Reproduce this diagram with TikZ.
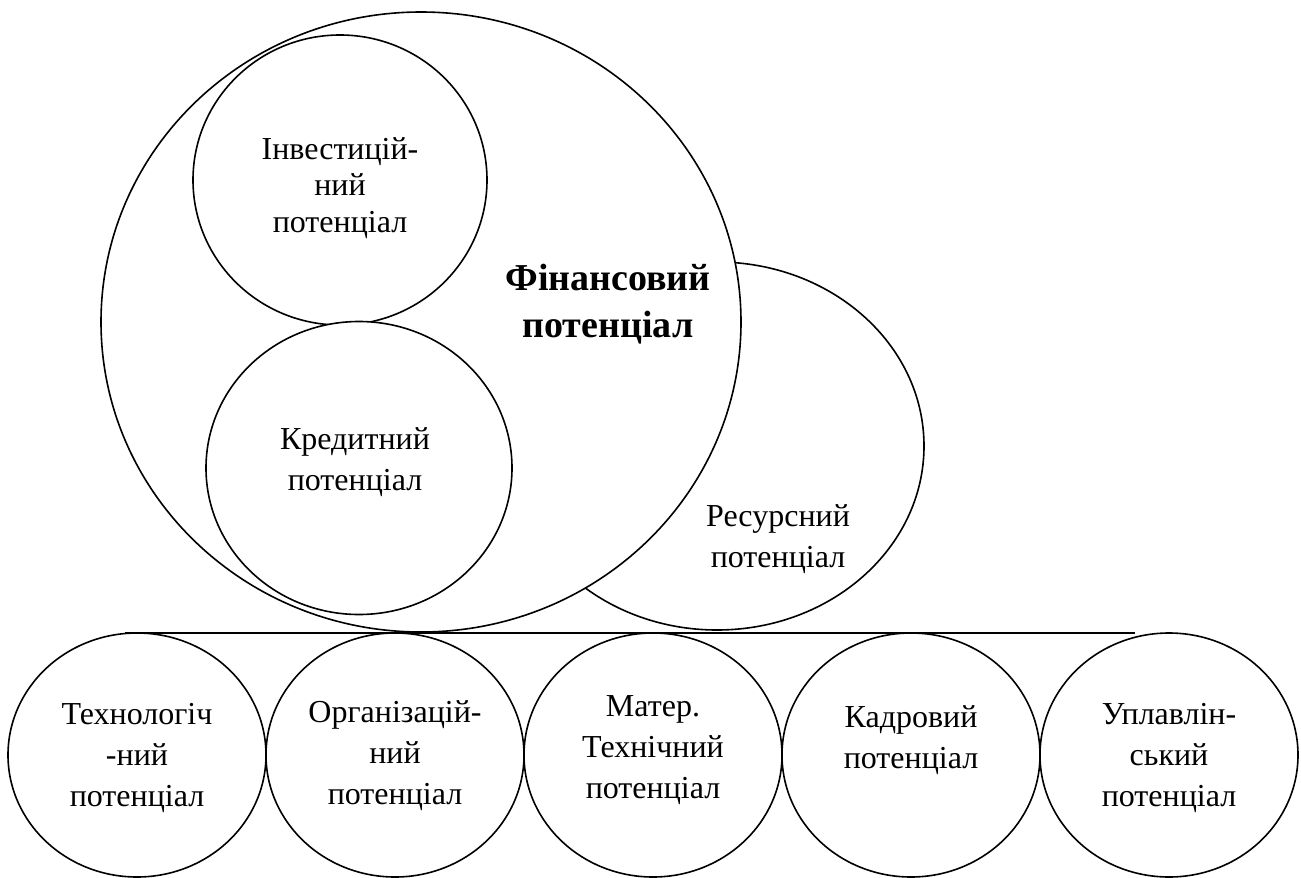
\documentclass[tikz,border=0pt]{standalone}
\usepackage{fontspec}
\setmainfont{Liberation Serif}
\usetikzlibrary{shapes.geometric,positioning}
\tikzset{
  potoval/.style={
    ellipse, draw=black, fill=white, line width=0.8pt,
    inner sep=0pt, outer sep=0pt
  },
  rowcircle/.style={
    ellipse, draw=black, line width=0.8pt,
    minimum width=129pt, minimum height=122pt,
    inner sep=0pt, outer sep=0pt
  },
  pottext/.style={
    align=center, inner sep=0pt,
    font=\fontsize{16}{#1}\selectfont
  },
  pottext/.default=20.5,
  maintext/.style={
    align=center, inner sep=0pt,
    font=\fontsize{19}{23.5}\selectfont\bfseries
  },
  rowline/.style={line width=0.8pt}
}

\begin{document}
\begin{tikzpicture}[x=0.5pt, y=-0.5pt]
\useasboundingbox (0,0) rectangle (1301,878);
% resource potential sits behind the financial one
\node[potoval, minimum width=207pt, minimum height=184pt] (res) at (717,446) {};
\node[potoval, minimum width=320pt, minimum height=310pt] (fin) at (421,322) {};
\node[potoval, minimum width=147pt, minimum height=145pt] (inv) at (340,180) {};
\node[potoval, minimum width=153pt, minimum height=146.5pt] (kred) at (359,468) {};
\node[maintext] (fintext) at (608,304) {Фінансовий\\потенціал};
\node[pottext=18.25] (invtext) at ([yshift=-4pt]inv.center) {Інвестицій-\\ний\\потенціал};
\node[pottext] (kredtext) at ([xshift=-2pt, yshift=2.75pt]kred.center) {Кредитний\\потенціал};
\node[pottext] (restext) at (778,539) {Ресурсний\\потенціал};
% bottom row
\node[rowcircle] (tech) at (137,755) {};
\node[rowcircle, right=0pt of tech] (org) {};
\node[rowcircle, right=0pt of org] (mat) {};
\node[rowcircle, right=0pt of mat] (kadr) {};
\node[rowcircle, right=0pt of kadr] (upr) {};
\coordinate (lineL) at (125,633);
\coordinate (lineR) at (1135,633);
\draw[rowline] (lineL) -- (lineR);
\node[pottext] (techtext) at ([yshift=-1.5pt]tech.center) {Технологіч\\-ний\\потенціал};
\node[pottext] (orgtext) at ([yshift=-0.5pt]org.center) {Організацій-\\ний\\потенціал};
\node[pottext] (mattext) at ([yshift=2.5pt]mat.center) {Матер.\\Технічний\\потенціал};
\node[pottext] (kadrtext) at ([yshift=7.5pt]kadr.center) {Кадровий\\потенціал};
\node[pottext] (uprtext) at ([yshift=-1.5pt]upr.center) {Уплавлін-\\ський\\потенціал};
\end{tikzpicture}
\end{document}
